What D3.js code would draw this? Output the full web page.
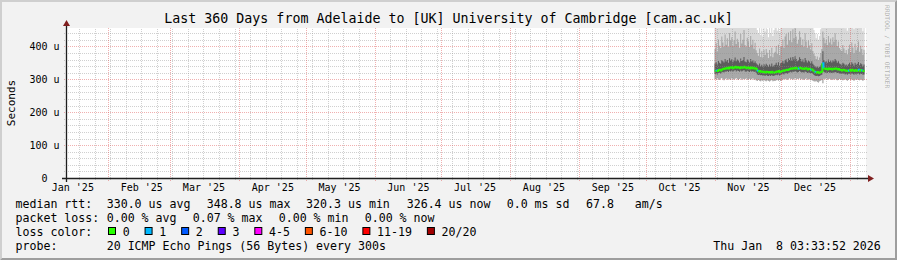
<!DOCTYPE html>
<html><head><meta charset="utf-8">
<script src="https://cdn.jsdelivr.net/npm/d3@7"></script>
<style>
html,body{margin:0;padding:0;background:#f2f2f2;}
svg{display:block;}
text{font-family:"DejaVu Sans Mono",monospace;fill:#000;white-space:pre;}
</style></head><body>
<svg id="chart" width="897" height="260"></svg>
<script>
// ---------------- data ----------------
const titleText = "Last 360 Days from Adelaide to [UK] University of Cambridge [cam.ac.uk]";
const yAxisTitle = "Seconds";
const graphEnd = Date.UTC(2026, 0, 8, 3, 33, 52);
const spanDays = 360;
const dataStart = Date.UTC(2025, 10, 1, 0, 0, 0);
const stepHours = 12;
const yMax = 456;                       // microseconds at top of plot
const yTickValues = [0, 100, 200, 300, 400];
const yTickLabels = ["0  ", "100 u", "200 u", "300 u", "400 u"];
const monthLabels = ["Jan '25","Feb '25","Mar '25","Apr '25","May '25","Jun '25",
                     "Jul '25","Aug '25","Sep '25","Oct '25","Nov '25","Dec '25"];

// median RTT per 12h step (microseconds)
const median = [
326,327,325,328,329,327,330,332,331,334,333,335,333,336,335,
337,334,336,338,335,337,336,334,337,335,336,338,335,334,336,
335,333,336,334,335,333,334,331,326,324,325,323,324,322,323,
321,323,322,321,322,321,323,321,321,322,324,323,325,322,324,
325,327,326,328,329,328,330,331,333,332,334,333,335,334,332,
333,335,334,332,333,331,334,333,330,332,331,329,330,327,324,
322,321,322,320.3,321,322,324,348.8,333,331,332,330,333,331,332,
330,332,331,333,332,330,331,329,328,327,329,328,326,327,325,
327,328,326,329,327,325,328,326,327,329,326,328,327,325,326.4];
// packet loss per step (%)
const lossPct = [
0,0.03,0,0,0,0,0,0,0,0,0,0,0,0,0,
0,0,0,0,0,0,0,0,0,0,0,0,0,0,0,
0,0,0,0,0,0,0,0,0.05,0,0,0,0,0,0,
0,0,0,0,0,0,0,0,0,0,0,0,0,0,0,
0,0,0,0,0,0,0,0,0,0,0,0,0,0,0,
0.02,0,0,0,0,0,0,0,0,0,0,0.04,0,0,0,
0.03,0,0,0,0,0,0,0.07,0,0,0,0,0,0,0,
0,0,0,0,0,0,0,0,0,0,0,0,0,0,0,
0.02,0,0,0,0,0,0,0,0,0.03,0,0,0.04,0,0];
// smoke: ping distribution per step (microseconds)
const pingMin = [
301,299,303,300,298,302,304,300,297,301,303,299,302,300,298,
303,301,299,302,304,300,298,301,303,299,302,300,301,303,299,
300,302,298,301,303,299,300,297,295,298,296,294,297,295,298,
296,294,297,295,293,296,298,294,296,295,297,299,296,298,295,
297,299,301,300,302,298,301,303,300,302,299,301,304,300,302,
301,303,299,302,300,298,301,303,299,301,300,297,299,296,294,
293,295,292,290,294,296,298,288,302,300,303,299,301,302,300,
298,301,299,302,300,297,299,301,298,300,297,299,301,298,296,
299,301,297,300,298,296,300,298,301,299,297,300,298,296,299];
const ping25 = [
316,318,315,319,320,317,321,322,321,324,323,325,322,326,324,
327,323,326,328,324,327,325,323,327,324,326,328,324,323,326,
324,322,326,323,325,322,324,320,315,313,314,312,313,311,312,
310,313,311,310,312,310,313,310,311,312,314,312,315,311,314,
315,317,315,318,319,317,320,321,323,321,324,322,325,323,321,
322,325,323,321,322,320,324,322,319,321,320,318,319,316,313,
311,310,311,309,310,312,314,325,322,320,321,319,322,320,321,
319,321,320,322,321,319,320,318,317,316,318,317,315,316,314,
316,317,315,318,316,314,317,315,316,318,315,317,316,314,315];
const ping75 = [
348,352,345,356,350,347,358,355,351,362,354,359,350,364,357,
361,352,358,366,355,360,357,351,363,356,359,368,354,352,360,
357,351,362,354,358,350,355,349,345,342,348,340,344,339,346,
341,347,343,338,345,340,348,339,342,344,350,343,352,341,349,
350,356,348,358,361,352,363,359,366,357,368,360,370,362,355,
359,367,362,354,360,352,365,358,351,357,354,349,355,347,343,
340,336,339,335,338,342,347,385,358,352,356,350,360,353,357,
351,358,354,362,357,350,355,348,346,344,350,347,342,345,341,
346,350,343,352,347,341,350,344,347,353,343,349,346,340,345];
const ping90 = [
392,410,384,421,402,395,430,412,399,436,405,425,398,441,418,
428,401,419,445,407,423,414,396,438,409,420,450,404,399,426,
415,398,432,405,420,393,411,388,380,372,394,368,385,366,390,
374,392,381,365,389,370,396,367,379,384,401,378,405,373,398,
402,421,396,430,438,405,442,419,447,413,452,425,458,430,408,
420,446,428,404,422,399,440,415,396,418,403,390,410,386,378,
371,362,369,358,366,380,392,445,426,410,420,404,432,412,424,
406,428,414,440,420,401,415,395,390,386,404,394,380,389,376,
393,405,383,412,397,379,408,388,397,415,384,402,392,375,390];
const pingMax = [
470,520,455,560,490,480,580,510,475,600,500,540,470,610,530,
560,490,530,620,500,545,515,470,590,505,525,640,495,480,550,
520,480,570,500,530,465,510,460,450,440,470,435,455,430,465,
445,470,452,428,462,440,475,432,450,458,480,448,490,442,476,
485,530,470,560,575,495,590,525,600,510,620,540,640,555,500,
530,590,545,495,535,485,575,520,480,525,495,470,505,460,450,
440,425,438,420,432,452,470,620,560,515,540,505,575,525,550,
505,560,520,590,540,495,525,480,470,462,500,478,455,468,448,
475,500,458,515,488,452,505,470,485,520,460,495,478,446,472];

// legend
const rttStatNames = ["avg", "max", "min", "now"];
const rttStatValues = [330.0, 348.8, 320.3, 326.4];
const rttSdMs = 0.0;
const rttAmps = 67.8;
const lossStatValues = [0.00, 0.07, 0.00, 0.00];
const pingsPerStep = 20;
const lossClassLabels = ["0", "1", "2", "3", "4-5", "6-10", "11-19", "20/20"];
const lossClassMax = [0, 1, 2, 3, 5, 10, 19, 20];
const lossClassColors = ["#26ff00", "#00b8ff", "#0059ff", "#5e00ff", "#ff00ff", "#ff5500", "#ff0000", "#a10000"];
const probeText = "20 ICMP Echo Pings (56 Bytes) every 300s";
const dateText = "Thu Jan  8 03:33:52 2026";
const watermark = "RRDTOOL / TOBI OETIKER";

// ---------------- drawing ----------------
const W = 897, H = 260;
const X0 = 66, X1 = 866, Y0 = 178, Y1 = 28;
const svg = d3.select("#chart");
const endT = new Date(graphEnd);
const startT = new Date(graphEnd - spanDays * 864e5);
const stepMs = stepHours * 3600e3;
const x = d3.scaleUtc().domain([startT, endT]).range([X0, X1]);
const y = d3.scaleLinear().domain([0, yMax]).range([Y0, Y1]);

svg.append("rect").attr("width", W).attr("height", H).attr("fill", "#f2f2f2");
svg.append("path").attr("d", "M0,0H897L895,2H2V258L0,260Z").attr("fill", "#cfcfcf");
svg.append("path").attr("d", "M897,0V260H0L2,258H895V2Z").attr("fill", "#9e9e9e");
svg.append("rect").attr("x", X0).attr("y", Y1).attr("width", X1 - X0).attr("height", Y0 - Y1).attr("fill", "#ffffff");

svg.append("defs").append("clipPath").attr("id", "plot")
  .append("rect").attr("x", X0).attr("y", Y1).attr("width", X1 - X0).attr("height", Y0 - Y1);

const pts = median.map((m, i) => ({
  t: new Date(dataStart + i * stepMs), m, loss: lossPct[i],
  lo: pingMin[i], q1: ping25[i], q3: ping75[i], q9: ping90[i], hi: pingMax[i]
}));
const ext = pts.concat([Object.assign({}, pts[pts.length - 1], { t: new Date(+pts[pts.length - 1].t + stepMs) })]);

const gSmoke = svg.append("g").attr("clip-path", "url(#plot)");
const band = (a, b) => d3.area().x(d => x(d.t)).y0(d => y(d[a])).y1(d => y(d[b])).curve(d3.curveStepAfter);
gSmoke.append("path").attr("d", band("lo", "hi")(ext)).attr("fill", "#d9d9d9");
gSmoke.append("path").attr("d", band("lo", "q9")(ext)).attr("fill", "#a9a9a9");
gSmoke.append("path").attr("d", band("q1", "q3")(ext)).attr("fill", "#5c5c5c");

// grid
const gGrid = svg.append("g");
const crisp = v => Math.round(v) + 0.5;
const monthStarts = d3.utcMonth.range(startT, endT);
const weekStarts = d3.utcSunday.range(startT, endT).filter(d => !monthStarts.some(m => +m === +d));
const minorY = d3.range(20, yMax, 20).filter(v => v % 100 !== 0);
const majorY = yTickValues.filter(v => v > 0);
const minorCol = "rgba(143,143,143,0.42)", majorCol = "rgba(222,79,79,0.45)";
minorY.forEach(v => {
  const yy = crisp(y(v));
  gGrid.append("line").attr("x1", X0 - 2).attr("x2", X1 + 2).attr("y1", yy).attr("y2", yy)
    .attr("stroke", minorCol).attr("stroke-dasharray", "1,1");
});
weekStarts.forEach(d => {
  const xx = crisp(x(d));
  gGrid.append("line").attr("x1", xx).attr("x2", xx).attr("y1", Y0 + 2).attr("y2", Y1)
    .attr("stroke", minorCol).attr("stroke-dasharray", "1,1");
});
majorY.forEach(v => {
  const yy = crisp(y(v));
  gGrid.append("line").attr("x1", X0 - 2).attr("x2", X1 + 2).attr("y1", yy).attr("y2", yy)
    .attr("stroke", majorCol).attr("stroke-dasharray", "1,1");
});
monthStarts.forEach(d => {
  const xx = crisp(x(d));
  gGrid.append("line").attr("x1", xx).attr("x2", xx).attr("y1", Y0 + 3).attr("y2", Y1)
    .attr("stroke", majorCol).attr("stroke-dasharray", "1,1");
});

// median line coloured by loss
const lossClass = p => {
  const lost = p / 100 * pingsPerStep;
  if (lost === 0) return 0;
  for (let c = 1; c < lossClassMax.length; c++) if (lost <= lossClassMax[c]) return c;
  return lossClassMax.length - 1;
};
const line = d3.line().x(d => x(d.t)).y(d => y(d.v));
const gMed = svg.append("g").attr("clip-path", "url(#plot)");
pts.forEach((p, i) => {
  const tNext = new Date(+p.t + stepMs);
  const seg = [{ t: p.t, v: p.m }, { t: tNext, v: p.m }];
  if (i + 1 < pts.length) seg.push({ t: tNext, v: pts[i + 1].m });
  gMed.append("path").attr("d", line(seg)).attr("fill", "none")
    .attr("stroke", lossClassColors[lossClass(p.loss)]).attr("stroke-width", 2);
});

// axes lines + arrows
const axCol = "#1f1f1f", arrowCol = "#801f1f";
svg.append("line").attr("x1", X0 - 4).attr("x2", X1 + 4).attr("y1", Y0 + 0.5).attr("y2", Y0 + 0.5).attr("stroke", axCol).attr("stroke-width", 1.3);
svg.append("line").attr("x1", X0 + 0.5).attr("x2", X0 + 0.5).attr("y1", Y0 + 4).attr("y2", Y1 - 4).attr("stroke", axCol).attr("stroke-width", 1.3);
svg.append("path").attr("d", `M${X1 + 2},${Y0 - 3}L${X1 + 2},${Y0 + 4}L${X1 + 8},${Y0 + 0.5}Z`).attr("fill", arrowCol);
svg.append("path").attr("d", `M${X0 - 3},${Y1 - 2}L${X0 + 4},${Y1 - 2}L${X0 + 0.5},${Y1 - 8}Z`).attr("fill", arrowCol);

// tick labels
const yAxis = d3.axisLeft(y).tickValues(yTickValues).tickFormat((d, i) => yTickLabels[i]).tickSize(0).tickPadding(6.5);
const gy = svg.append("g").attr("transform", `translate(${X0},0)`).call(yAxis);
gy.select(".domain").remove();
gy.selectAll("text").attr("font-family", "DejaVu Sans Mono").attr("font-size", "10px").attr("fill", "#000");

const monthMid = d3.utcMonth.range(new Date(Date.UTC(2025, 0, 1)), new Date(Date.UTC(2026, 0, 1))).map(m => d3.utcDay.offset(m, 15));
const xAxis = d3.axisBottom(x).tickValues(monthMid).tickFormat((d, i) => monthLabels[i]).tickSize(0).tickPadding(5.5);
const gx = svg.append("g").attr("transform", `translate(0,${Y0})`).call(xAxis);
gx.select(".domain").remove();
gx.selectAll("text").attr("font-family", "DejaVu Sans Mono").attr("font-size", "10px").attr("fill", "#000");

// titles
svg.append("text").attr("x", 448.5).attr("y", 23).attr("text-anchor", "middle").attr("font-size", "13.3px").text(titleText);
svg.append("text").attr("transform", "translate(14.5,103) rotate(-90)").attr("text-anchor", "middle").attr("font-size", "11px").text(yAxisTitle);
svg.append("text").attr("transform", "translate(884.5,5) rotate(90)").attr("font-size", "6.3px")
  .attr("fill", "rgba(0,0,0,0.3)").style("fill", "rgba(0,0,0,0.3)").text(watermark);

// legend
const lf = "11.6px";
const leg = (txt, xx, yy) => svg.append("text").attr("x", xx).attr("y", yy).attr("font-size", lf).text(txt);
const L1 = 208.3, L2 = 222.2, L3 = 236.1, L4 = 250.2;
leg("median rtt:", 15.5, L1);
const rttX = [106.7, 206.7, 306.1, 406.7];
rttStatValues.forEach((v, i) => leg(`${v.toFixed(1)} us ${rttStatNames[i]}`, rttX[i], L1));
leg(`${rttSdMs.toFixed(1)} ms sd`, 506.7, L1);
leg(rttAmps.toFixed(1), 586.1, L1);
leg("am/s", 634.7, L1);
leg("packet loss:", 15.5, L2);
const lossX = [106.7, 192.7, 278.7, 364.7];
lossStatValues.forEach((v, i) => leg(`${v.toFixed(2)} % ${rttStatNames[i]}`, lossX[i], L2));
leg("loss color:", 15.5, L3);
let bx = 108.5;
lossClassLabels.forEach((lab, i) => {
  svg.append("rect").attr("x", bx).attr("y", 227.5).attr("width", 7).attr("height", 7)
    .attr("fill", lossClassColors[i]).attr("stroke", "#000").attr("stroke-width", 1);
  const lx = bx + 14.2;
  leg(lab, lx, L3);
  bx = lx + lab.length * 6.98 + 15.4;
});
leg("probe:", 15.5, L4);
leg(probeText, 106.7, L4);
svg.append("text").attr("x", 880.8).attr("y", L4).attr("text-anchor", "end").attr("font-size", lf).text(dateText);
</script>
</body></html>
